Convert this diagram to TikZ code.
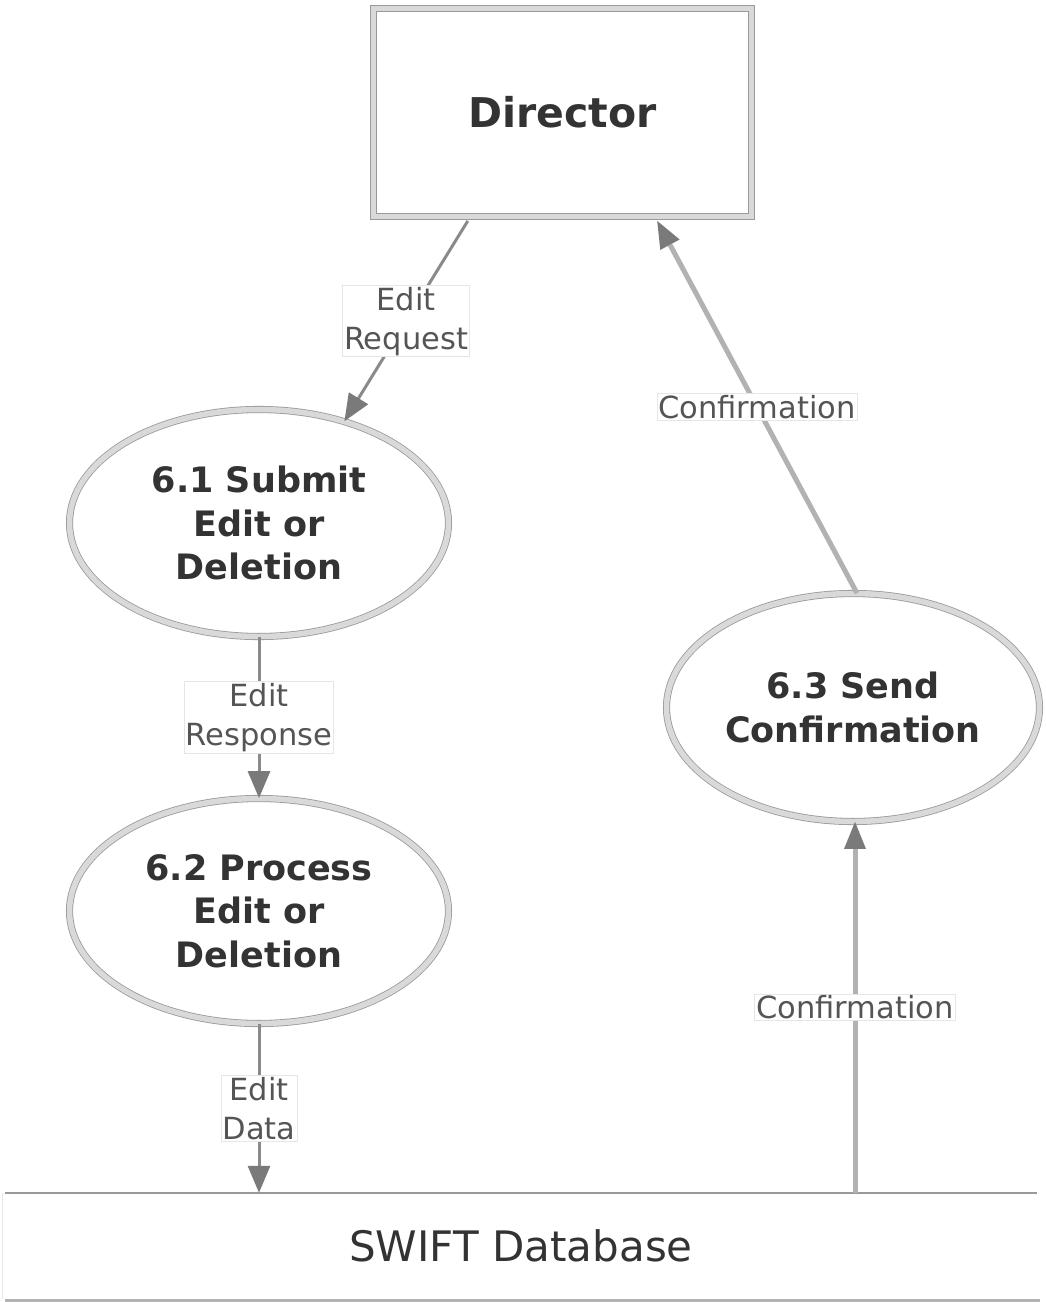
\documentclass[tikz,border=0pt]{standalone}
\usepackage{fontspec}
\setmainfont{DejaVu Sans}
\usetikzlibrary{arrows.meta,shapes.geometric,calc}
\definecolor{edgeline}{HTML}{8A8A8A}
\definecolor{confline}{HTML}{B2B2B2}
\definecolor{tipgray}{HTML}{7A7A7A}
\definecolor{bandgray}{HTML}{D9D9D9}
\definecolor{rimgray}{HTML}{999999}
\definecolor{boldtext}{HTML}{333333}
\definecolor{labeltext}{HTML}{555555}
\definecolor{labelrim}{HTML}{E6E6E6}
\tikzset{
  entity/.style={rectangle, draw=rimgray, line width=0.8pt, double=bandgray, double distance=5.5pt,
     fill=white, minimum width=378pt, minimum height=208pt, inner sep=0pt,
     font=\fontsize{41}{49}\selectfont\bfseries, text=boldtext},
  proc/.style={ellipse, draw=rimgray, line width=0.8pt, double=bandgray, double distance=5.5pt,
     fill=white, inner sep=0pt, align=center,
     font=\fontsize{35}{43.5}\selectfont\bfseries, text=boldtext},
  flow/.style={draw=edgeline, line width=3pt, -{Triangle[length=27pt,width=22pt,color=tipgray]}},
  confflow/.style={draw=confline, line width=5pt, -{Triangle[length=27pt,width=22pt,color=tipgray,line width=0pt]}},
  flowlabel/.style={fill=white, draw=labelrim, line width=0.8pt, inner sep=1.5pt, align=center,
     font=\fontsize{30.5}{39}\selectfont, text=labeltext},
}
\begin{document}
\begin{tikzpicture}[x=1pt,y=-1pt]
\useasboundingbox (0,0) rectangle (1045,1302);

% Director
\node[entity] (dir) at (562.5,112.5) {\raisebox{-2pt}{Director}};

% processes
\node[proc, minimum width=379pt, minimum height=227pt] (p61) at (259,523) {6.1 Submit\\Edit or\\Deletion};
\node[proc, minimum width=379pt, minimum height=225pt] (p62) at (259,911) {6.2 Process\\Edit or\\Deletion};
\node[proc, minimum width=373pt, minimum height=228pt] (p63) at (853,707.5) {6.3 Send\\Confirmation};

% data store
\node[rectangle, minimum width=1032pt, minimum height=106pt, inner sep=0pt,
      font=\fontsize{42}{50}\selectfont, text=boldtext] (db) at (521,1246) {SWIFT Database};
\draw[draw=labelrim, line width=1pt] ($(db.north west)+(-2,0)$) -- ($(db.south west)+(-2,0)$);
\draw[draw=rimgray, line width=2.5pt] ($(db.north west)$) -- ($(db.north east)$);
\draw[draw=confline, line width=4pt] ($(db.south west)+(0,2)$) -- ($(db.south east)+(3,2)$);

% flows
\draw[flow] ($(dir.south west)!0.25!(dir.south east)+(0,4)$) -- (p61.50)
   node[flowlabel, pos=0.5] {Edit\\Request};
\draw[confflow] (p63.88) -- ($(dir.south west)!0.75!(dir.south east)+(0,4)$)
   node[flowlabel, pos=0.5] {Confirmation};
\draw[flow] (p61.south) -- (p62.north)
   node[flowlabel, pos=0.5] {Edit\\Response};
\draw[flow] (p62.south) -- (p62.south |- db.north)
   node[flowlabel, pos=0.5] {Edit\\Data};
\draw[confflow] ($(p63.south |- db.north)+(2,0)$) -- ($(p63.south)+(2,0)$)
   node[flowlabel, pos=0.5] {Confirmation};
\end{tikzpicture}
\end{document}
